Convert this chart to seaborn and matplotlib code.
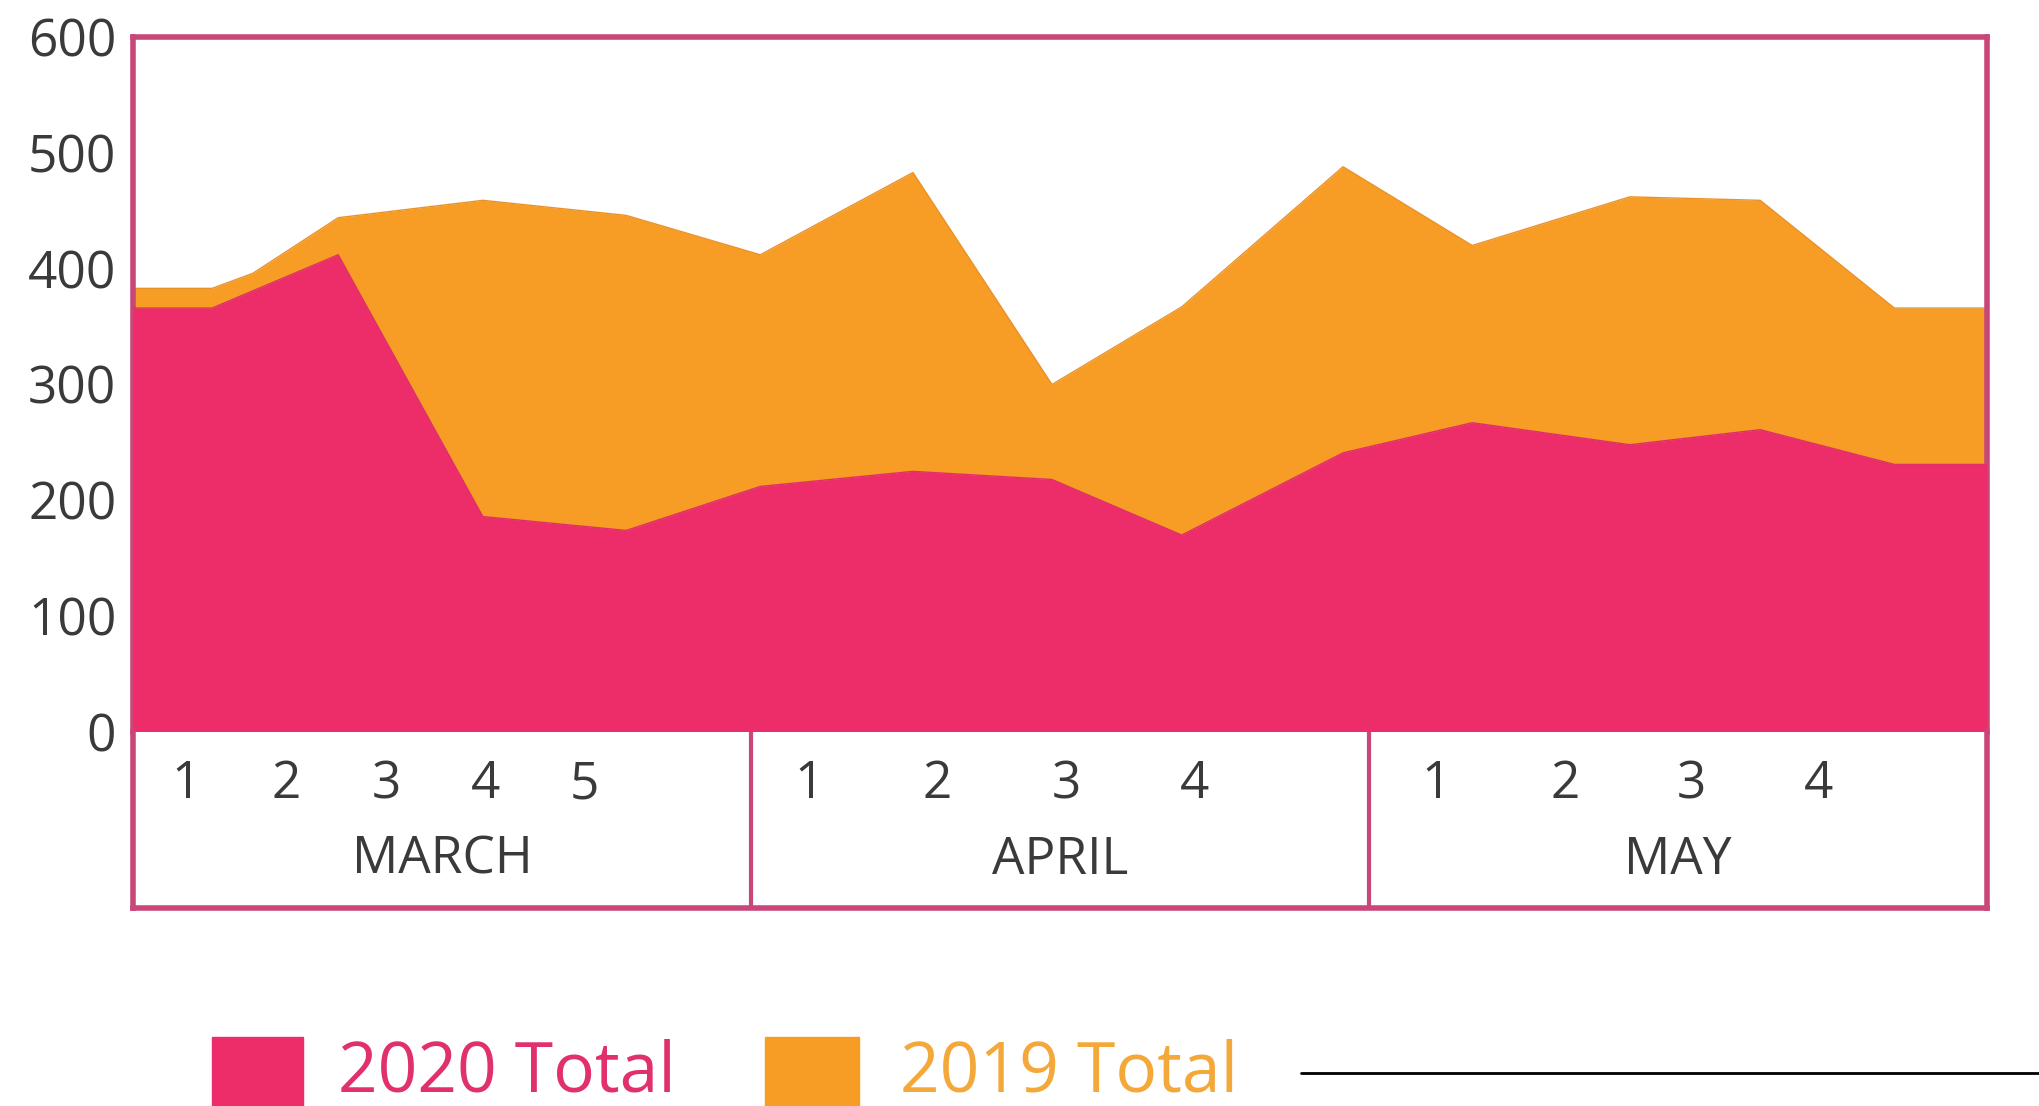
import numpy as np
import matplotlib
matplotlib.use("Agg")
import matplotlib.pyplot as plt
import seaborn as sns
from matplotlib.patches import Rectangle
from matplotlib.lines import Line2D

# positions along the x axis in "month" units (0 = start of March, 3 = end of May)
x_2019 = [0, 0.128, 0.194, 0.332, 0.566, 0.798, 1.015, 1.262, 1.487, 1.697,
          1.958, 2.167, 2.422, 2.633, 2.850, 3.0]
total_2019 = [383, 383, 396, 444, 459, 446, 412, 483, 300, 367,
              488, 420, 462, 459, 366, 366]

x_2020 = [0, 0.128, 0.332, 0.566, 0.798, 1.015, 1.262, 1.487, 1.697,
          1.958, 2.167, 2.422, 2.633, 2.850, 3.0]
total_2020 = [366, 366, 412, 186, 174, 212, 225, 218, 170,
              241, 267, 248, 261, 231, 231]

months = ["MARCH", "APRIL", "MAY"]
week_labels = [["1", "2", "3", "4", "5"], ["1", "2", "3", "4"], ["1", "2", "3", "4"]]
week_pos = [[0.086, 0.248, 0.410, 0.570, 0.731],
            [1.094, 1.301, 1.511, 1.717],
            [2.108, 2.317, 2.521, 2.728]]
y_ticks = [0, 100, 200, 300, 400, 500, 600]

PINK = "#ec2d69"
ORANGE = "#f79c24"
FRAME = "#c8467a"
TXT = "#3a3a3a"

sns.set_theme(style="white")
plt.rcParams["font.family"] = ["Open Sans", "DejaVu Sans"]

W, H = 2040, 1106
fig = plt.figure(figsize=(W / 100, H / 100), dpi=100)
ax = fig.add_axes([133 / W, 1 - 732 / H, 1854 / W, 695 / H])
box = fig.add_axes([133 / W, 1 - 908 / H, 1854 / W, 176 / H])

# areas: 2019 behind, 2020 in front
ax.fill_between(x_2019, total_2019, 0, color=ORANGE, lw=0, zorder=1)
sns.lineplot(x=x_2019, y=total_2019, ax=ax, color="#e8922a", lw=1, zorder=2)
ax.fill_between(x_2020, total_2020, 0, color=PINK, lw=0, zorder=3)
sns.lineplot(x=x_2020, y=total_2020, ax=ax, color="#e0306a", lw=1, zorder=4)

ax.set_xlim(0, 3)
ax.set_ylim(0, 600)
ax.set_yticks(y_ticks)
ax.set_yticklabels([str(v) for v in y_ticks], fontsize=37, color=TXT)
ax.set_xticks([])
ax.tick_params(axis="y", length=0, pad=12)
for side in ["top", "left", "right"]:
    ax.spines[side].set_color(FRAME)
    ax.spines[side].set_linewidth(4)
ax.spines["bottom"].set_visible(False)

# month box under the chart
box.set_xlim(0, 3)
box.set_ylim(0, 1)
box.set_xticks([])
box.set_yticks([])
for side in ["left", "right", "bottom"]:
    box.spines[side].set_color(FRAME)
    box.spines[side].set_linewidth(4)
box.spines["top"].set_visible(False)
for d in [1, 2]:
    box.axvline(d, color=FRAME, lw=3)
for i, m in enumerate(months):
    for lab, xp in zip(week_labels[i], week_pos[i]):
        box.text(xp, 0.70, lab, ha="center", va="center", fontsize=37, color=TXT)
    box.text(i + 0.5, 0.27, m, ha="center", va="center", fontsize=37, color=TXT)

# legend at the bottom
fig.patches.append(Rectangle((212 / W, 0), 91 / W, (H - 1037) / H,
                             transform=fig.transFigure, color=PINK))
fig.text(338 / W, 1 - 1073 / H, "2020 Total", color="#e0306e", fontsize=50,
         ha="left", va="center")
fig.patches.append(Rectangle((765 / W, 0), 94 / W, (H - 1037) / H,
                             transform=fig.transFigure, color=ORANGE))
fig.text(900 / W, 1 - 1073 / H, "2019 Total", color="#f5a83a", fontsize=50,
         ha="left", va="center")
fig.lines.append(Line2D([1301 / W, 1.0], [1 - 1073 / H, 1 - 1073 / H],
                        transform=fig.transFigure, color="black", lw=2))

fig.savefig("out.png", dpi=100)
